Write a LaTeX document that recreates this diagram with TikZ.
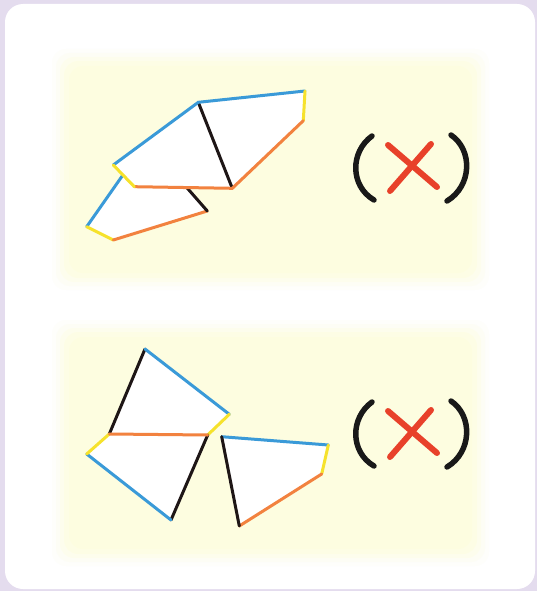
\documentclass[tikz,border=0pt]{standalone}
\begin{document}
\begin{tikzpicture}[x=1pt,y=-1pt,
  edge/.style={line width=3pt,line cap=round},
  eb/.style={edge,draw=cblue},
  ey/.style={edge,draw=cyel},
  eo/.style={edge,draw=corange},
  ek/.style={edge,draw=cblack},
  paren/.style={line width=5.5pt,line cap=round,draw=black!90},
  cross/.style={line width=6pt,line cap=round,draw=cred}]
\definecolor{cblue}{HTML}{3A9AD8}
\definecolor{cyel}{HTML}{F6E22C}
\definecolor{corange}{HTML}{F2823F}
\definecolor{cblack}{HTML}{1E1616}
\definecolor{cred}{HTML}{E8412A}
\definecolor{lav}{HTML}{E4DCEE}
\definecolor{pale}{HTML}{FDFDE0}
\useasboundingbox (0,0) rectangle (537,591);
\fill[lav] (0,0) rectangle (537,591);
\fill[white,rounded corners=18pt] (5,4) rectangle (535,589);
% panels with soft edges
\foreach \d/\o in {14/0.12,10/0.2,6/0.35,2/0.55,-3/1}{
  \fill[pale,opacity=\o,rounded corners=14pt] (66-\d,63-\d) rectangle (475+\d,276+\d);
  \fill[pale,opacity=\o,rounded corners=14pt] (66-\d,334-\d) rectangle (475+\d,552+\d);
}
% ---------- top figure ----------
\coordinate (P) at (146.4,141.4);
\coordinate (G) at (86.7,226.7);
\coordinate (H) at (113.3,240);
\coordinate (I) at (207.3,211);
\fill[white] (P)--(G)--(H)--(I)--cycle;
\draw[eb] (P)--(G); \draw[ey] (G)--(H); \draw[eo] (H)--(I); \draw[ek] (I)--(P);
\coordinate (A) at (198.3,102.3);
\coordinate (B) at (305,91);
\coordinate (C) at (303.3,120.7);
\coordinate (D) at (232.3,188.3);
\coordinate (E) at (134.3,186.7);
\coordinate (F) at (113.3,165);
\fill[white] (A)--(B)--(C)--(D)--(E)--(F)--cycle;
\draw[ek] (A)--(D);
\draw[eb] (F)--(A)--(B);
\draw[ey] (B)--(C);
\draw[eo] (C)--(D)--(E);
\draw[ey] (E)--(F);
% ---------- bottom figure ----------
\coordinate (Q) at (145,349);
\coordinate (R) at (229.3,414.3);
\coordinate (S) at (207.7,435);
\coordinate (T) at (109.3,434);
\coordinate (U) at (86.7,454);
\coordinate (V) at (171,520);
\fill[white] (T)--(Q)--(R)--(S)--(V)--(U)--cycle;
\draw[ek] (T)--(Q);
\draw[eb] (Q)--(R);
\draw[ey] (R)--(S);
\draw[ek] (S)--(V);
\draw[eb] (V)--(U);
\draw[ey] (U)--(T);
\draw[eo] (T)--(S);
\coordinate (W) at (221.7,436.7);
\coordinate (X) at (328.3,445);
\coordinate (Y) at (321.7,474);
\coordinate (Z) at (239.3,526);
\fill[white] (W)--(X)--(Y)--(Z)--cycle;
\draw[eb] (W)--(X); \draw[ey] (X)--(Y); \draw[eo] (Y)--(Z); \draw[ek] (Z)--(W);
% ---------- marks ----------
\foreach \dy in {0,266}{
  \begin{scope}[yshift=-\dy pt]
  \draw[paren] (372,136) .. controls (350,152) and (350,186) .. (374,200);
  \draw[paren] (451,135) .. controls (473,150) and (472,186) .. (447,201);
  \draw[cross] (388,145) -- (437,187);
  \draw[cross] (431,144) -- (390,191);
  \end{scope}
}
\end{tikzpicture}
\end{document}
